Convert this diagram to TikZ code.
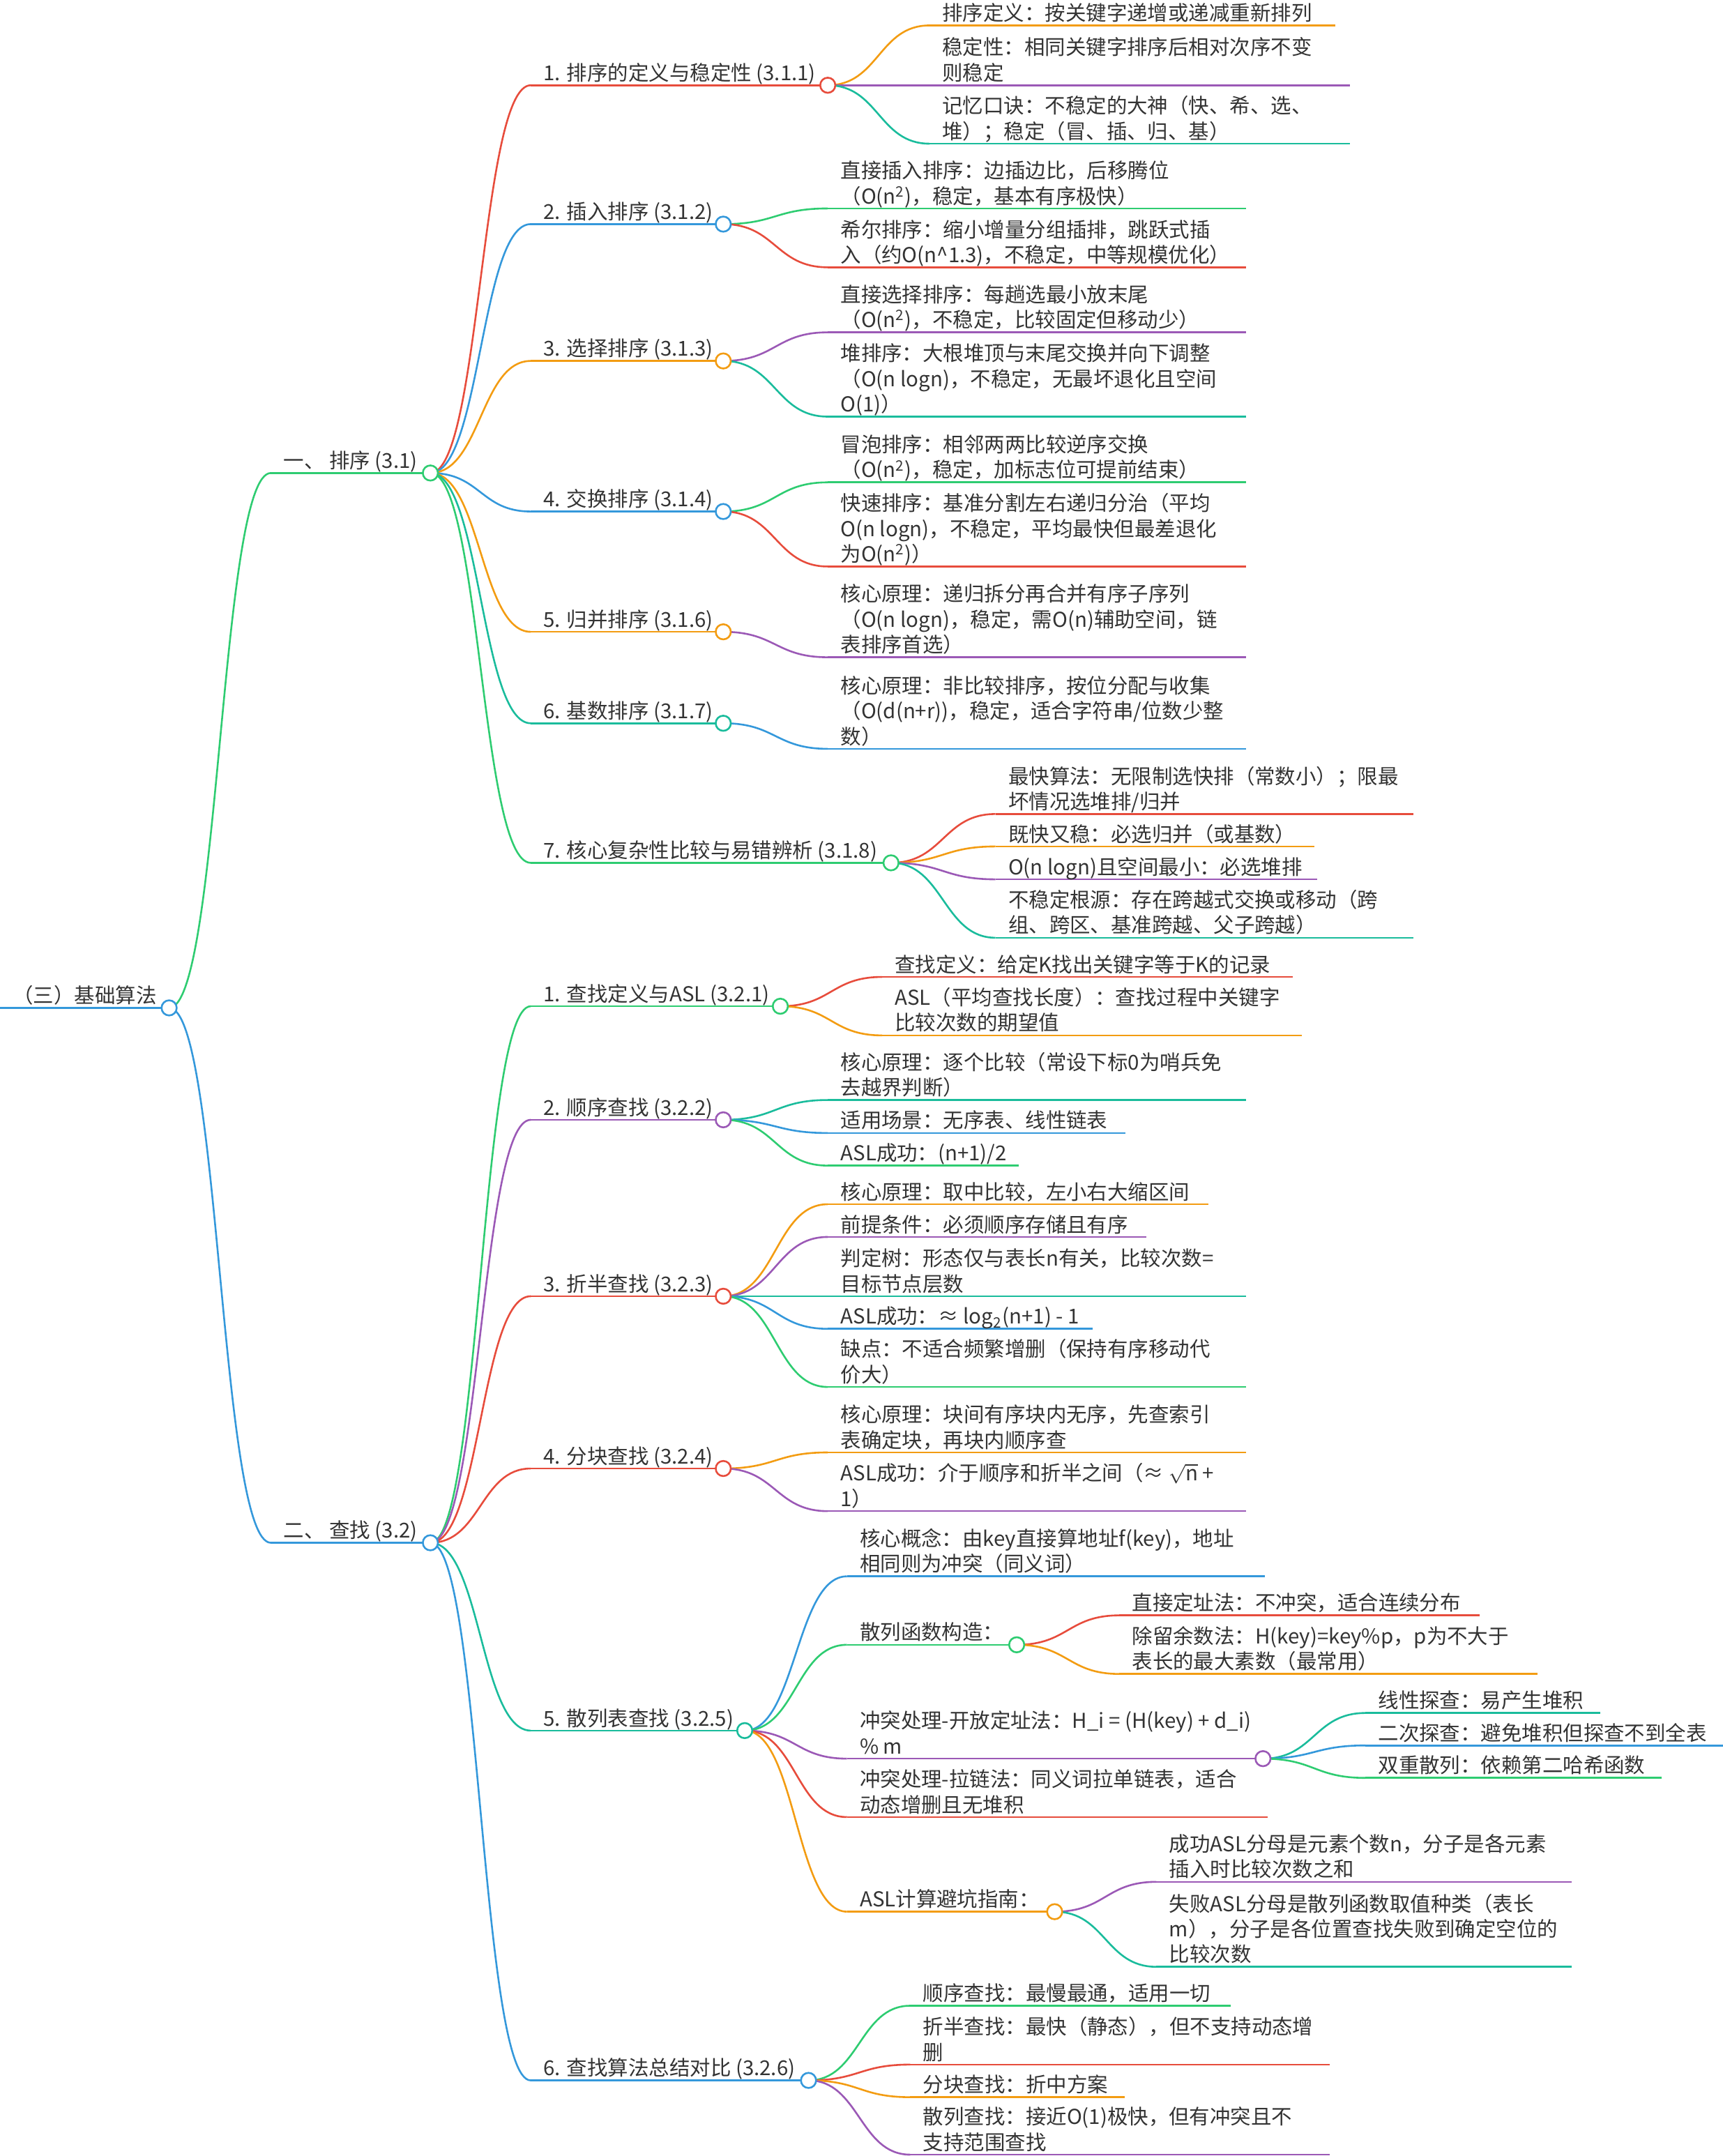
\documentclass[tikz,border=0pt]{standalone}
\usepackage{fontspec}
\setmainfont{Noto Sans CJK SC}
\usetikzlibrary{calc}

\definecolor{mmred}{HTML}{E74C3C}
\definecolor{mmblue}{HTML}{3498DB}
\definecolor{mmorange}{HTML}{F39C12}
\definecolor{mmgreen}{HTML}{2ECC71}
\definecolor{mmpurple}{HTML}{9B59B6}
\definecolor{mmteal}{HTML}{1ABC9C}

% horizontal S-shaped branch: parent end -> child start
\newcommand\mmlink[3]{\draw[line width=0.75pt, #1] let \p1=(#2), \p2=(#3) in
  (\p1) .. controls ({0.5*\x1+0.5*\x2},\y1) and ({0.5*\x1+0.5*\x2},\y2) .. (\p2);}
% one branch: name, parent, colour, start x, end x, y, text
\newcommand\mmitem[7]{%
  \coordinate (s#1) at (#4,#6);
  \coordinate (e#1) at (#5,#6);
  \draw[ul=#3] (s#1) -- (e#1);
  \mmlink{#3}{e#2}{s#1}
  \node[txt] (t#1) at (s#1) {#7};}

\begin{document}
\begin{tikzpicture}[
  x=0.02cm, y=-0.02cm,
  font=\fontsize{8.5pt}{10.5pt}\selectfont,
  txt/.style={anchor=base west, align=left, inner sep=0pt, text=black!80,
              xshift=0.18cm, yshift=0.07cm},
  ul/.style={line width=0.75pt, draw=#1},
  knob/.style={circle, draw=#1, fill=white, line width=0.75pt,
               minimum size=0.22cm, inner sep=0pt},
]
\useasboundingbox (0,0) rectangle (1253,1568);

% ---- root ----
\coordinate (sR) at (0,733);
\coordinate (eR) at (123,733);
\draw[ul=mmblue] (sR) -- (eR);
\node[txt] (tR) at (sR) {（三）基础算法};

% ---- level 1 ----
\mmitem{A}{R}{mmgreen}{197}{313}{344}{一、 排序 (3.1)}
\mmitem{B}{R}{mmblue}{197}{313}{1122}{二、 查找 (3.2)}

% ---- sorting ----
\mmitem{A1}{A}{mmred}{386}{602}{62}{1. 排序的定义与稳定性 (3.1.1)}
\mmitem{A1a}{A1}{mmorange}{676}{971}{18.5}{排序定义：按关键字递增或递减重新排列}
\mmitem{A1b}{A1}{mmpurple}{676}{982}{62}{稳定性：相同关键字排序后相对次序不变\\则稳定}
\mmitem{A1c}{A1}{mmteal}{676}{982}{104.5}{记忆口诀：不稳定的大神（快、希、选、\\堆）；稳定（冒、插、归、基）}

\mmitem{A2}{A}{mmblue}{386}{526}{163}{2. 插入排序 (3.1.2)}
\mmitem{A2a}{A2}{mmgreen}{602}{906}{151.6}{直接插入排序：边插边比，后移腾位\\（O(n\textsuperscript{2})，稳定，基本有序极快）}
\mmitem{A2b}{A2}{mmred}{602}{906}{194.4}{希尔排序：缩小增量分组插排，跳跃式插\\入（约O(n\textasciicircum 1.3)，不稳定，中等规模优化）}

\mmitem{A3}{A}{mmorange}{386}{526}{262.5}{3. 选择排序 (3.1.3)}
\mmitem{A3a}{A3}{mmpurple}{602}{906}{241.7}{直接选择排序：每趟选最小放末尾\\（O(n\textsuperscript{2})，不稳定，比较固定但移动少）}
\mmitem{A3b}{A3}{mmteal}{602}{906}{303}{堆排序：大根堆顶与末尾交换并向下调整\\（O(n logn)，不稳定，无最坏退化且空间\\O(1)）}

\mmitem{A4}{A}{mmblue}{386}{526}{372}{4. 交换排序 (3.1.4)}
\mmitem{A4a}{A4}{mmgreen}{602}{906}{350.8}{冒泡排序：相邻两两比较逆序交换\\（O(n\textsuperscript{2})，稳定，加标志位可提前结束）}
\mmitem{A4b}{A4}{mmred}{602}{906}{412}{快速排序：基准分割左右递归分治（平均\\O(n logn)，不稳定，平均最快但最差退化\\为O(n\textsuperscript{2})）}

\mmitem{A5}{A}{mmorange}{386}{526}{459.5}{5. 归并排序 (3.1.6)}
\mmitem{A5a}{A5}{mmpurple}{602}{906}{478}{核心原理：递归拆分再合并有序子序列\\（O(n logn)，稳定，需O(n)辅助空间，链\\表排序首选）}

\mmitem{A6}{A}{mmteal}{386}{526}{526}{6. 基数排序 (3.1.7)}
\mmitem{A6a}{A6}{mmblue}{602}{906}{544.6}{核心原理：非比较排序，按位分配与收集\\（O(d(n+r))，稳定，适合字符串/位数少整\\数）}

\mmitem{A7}{A}{mmgreen}{386}{648}{627.5}{7. 核心复杂性比较与易错辨析 (3.1.8)}
\mmitem{A7a}{A7}{mmred}{724}{1028}{592}{最快算法：无限制选快排（常数小）；限最\\坏情况选堆排/归并}
\mmitem{A7b}{A7}{mmorange}{724}{956}{615.6}{既快又稳：必选归并（或基数）}
\mmitem{A7c}{A7}{mmpurple}{724}{958}{639.5}{O(n logn)且空间最小：必选堆排}
\mmitem{A7d}{A7}{mmteal}{724}{1028}{682}{不稳定根源：存在跨越式交换或移动（跨\\组、跨区、基准跨越、父子跨越）}

% ---- searching ----
\mmitem{B1}{B}{mmgreen}{386}{567.5}{731.8}{1. 查找定义与ASL (3.2.1)}
\mmitem{B1a}{B1}{mmred}{641.5}{940}{710.5}{查找定义：给定K找出关键字等于K的记录}
\mmitem{B1b}{B1}{mmorange}{641.5}{947}{753}{ASL（平均查找长度）：查找过程中关键字\\比较次数的期望值}

\mmitem{B2}{B}{mmpurple}{386}{526}{814.4}{2. 顺序查找 (3.2.2)}
\mmitem{B2a}{B2}{mmteal}{602}{906}{800}{核心原理：逐个比较（常设下标0为哨兵免\\去越界判断）}
\mmitem{B2b}{B2}{mmblue}{602}{818.6}{824}{适用场景：无序表、线性链表}
\mmitem{B2c}{B2}{mmgreen}{602}{741}{847.7}{ASL成功：(n+1)/2}

\mmitem{B3}{B}{mmred}{386}{526}{942.7}{3. 折半查找 (3.2.3)}
\mmitem{B3a}{B3}{mmorange}{602}{879}{875.8}{核心原理：取中比较，左小右大缩区间}
\mmitem{B3b}{B3}{mmpurple}{602}{833.7}{899.6}{前提条件：必须顺序存储且有序}
\mmitem{B3c}{B3}{mmteal}{602}{906}{942.7}{判定树：形态仅与表长n有关，比较次数=\\目标节点层数}
\mmitem{B3d}{B3}{mmblue}{602}{794.5}{966.4}{ASL成功：≈ log\textsubscript{2}(n+1) - 1}
\mmitem{B3e}{B3}{mmgreen}{602}{906}{1008.7}{缺点：不适合频繁增删（保持有序移动代\\价大）}

\mmitem{B4}{B}{mmred}{386}{526}{1068}{4. 分块查找 (3.2.4)}
\mmitem{B4a}{B4}{mmorange}{602}{906}{1056.3}{核心原理：块间有序块内无序，先查索引\\表确定块，再块内顺序查}
\mmitem{B4b}{B4}{mmpurple}{602}{906}{1099}{ASL成功：介于顺序和折半之间（≈ \(\sqrt{\mathrm{n}}\) +\\1）}

\mmitem{B5}{B}{mmteal}{386}{541.6}{1258.6}{5. 散列表查找 (3.2.5)}
\mmitem{B5a}{B5}{mmblue}{616}{920}{1146.4}{核心概念：由key直接算地址f(key)，地址\\相同则为冲突（同义词）}
\mmitem{B5b}{B5}{mmgreen}{616}{739.4}{1196.2}{散列函数构造：}
\mmitem{B5b1}{B5b}{mmred}{814}{1076}{1174.8}{直接定址法：不冲突，适合连续分布}
\mmitem{B5b2}{B5b}{mmorange}{814}{1118}{1217.4}{除留余数法：H(key)=key\%p，p为不大于\\表长的最大素数（最常用）}
\mmitem{B5c}{B5}{mmpurple}{616}{918.5}{1279}{冲突处理-开放定址法：H\_i = (H(key) + d\_i)\\\% m}
\mmitem{B5c1}{B5c}{mmteal}{993}{1164}{1245.8}{线性探查：易产生堆积}
\mmitem{B5c2}{B5c}{mmblue}{993}{1253}{1269.4}{二次探查：避免堆积但探查不到全表}
\mmitem{B5c3}{B5c}{mmgreen}{993}{1208.6}{1293}{双重散列：依赖第二哈希函数}
\mmitem{B5d}{B5}{mmred}{616}{922}{1321.5}{冲突处理-拉链法：同义词拉单链表，适合\\动态增删且无堆积}
\mmitem{B5e}{B5}{mmorange}{616}{767}{1390.3}{ASL计算避坑指南：}
\mmitem{B5e1}{B5e}{mmpurple}{841}{1143}{1368.6}{成功ASL分母是元素个数n，分子是各元素\\插入时比较次数之和}
\mmitem{B5e2}{B5e}{mmteal}{841}{1143}{1430.4}{失败ASL分母是散列函数取值种类（表长\\m），分子是各位置查找失败到确定空位的\\比较次数}

\mmitem{B6}{B}{mmblue}{386}{588}{1513}{6. 查找算法总结对比 (3.2.6)}
\mmitem{B6a}{B6}{mmgreen}{662}{895}{1458.7}{顺序查找：最慢最通，适用一切}
\mmitem{B6b}{B6}{mmred}{662}{967}{1501.5}{折半查找：最快（静态），但不支持动态增\\删}
\mmitem{B6c}{B6}{mmorange}{662}{818}{1525.2}{分块查找：折中方案}
\mmitem{B6d}{B6}{mmpurple}{662}{967}{1567}{散列查找：接近O(1)极快，但有冲突且不\\支持范围查找}

% ---- fold circles on top ----
\foreach \n/\c in {R/mmblue, A/mmgreen, B/mmblue, A1/mmred, A2/mmblue, A3/mmorange,
    A4/mmblue, A5/mmorange, A6/mmteal, A7/mmgreen, B1/mmgreen, B2/mmpurple, B3/mmred,
    B4/mmred, B5/mmteal, B5b/mmgreen, B5c/mmpurple, B5e/mmorange, B6/mmblue}
  \node[knob=\c] (k\n) at (e\n) {};
\end{tikzpicture}
\end{document}
